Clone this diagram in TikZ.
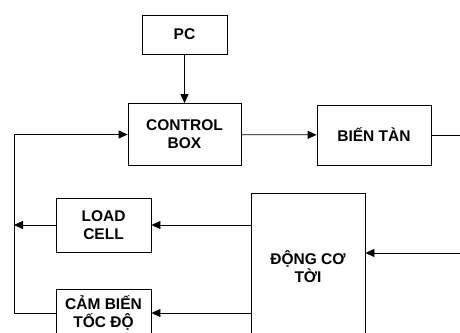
\documentclass[tikz,border=0pt]{standalone}
\usepackage{fontspec}
\setmainfont{Liberation Sans}
\usetikzlibrary{arrows.meta}

\begin{document}
\begin{tikzpicture}[x=1pt,y=-1pt,line width=0.8pt,>={Triangle[length=9pt,width=8pt]},
  every node/.style={font=\fontsize{15.5}{18}\selectfont\bfseries,align=center},
  blk/.style={draw,rectangle,inner sep=0pt}]
\useasboundingbox (0,0) rectangle (460,332); \clip (0,0) rectangle (460,332);
\node[blk,minimum width=85pt,minimum height=39pt] (pc) at (184.5,34.5) {PC};
\node[blk,minimum width=113pt,minimum height=62pt] (ctrl) at (184.5,134.5) {CONTROL\\BOX};
\node[blk,minimum width=114pt,minimum height=60pt] (bientan) at (374,135) {BIẾN TÀN};
\node[blk,minimum width=95pt,minimum height=54pt] (loadcell) at (103.5,225) {LOAD\\CELL};
\node[blk,minimum width=95pt,minimum height=48pt] (cambien) at (103.5,313) {CẢM BIẾN\\TỐC ĐỘ};
\node[blk,minimum width=114pt,minimum height=148pt] (dongco) at (308,267) {ĐỘNG CƠ\\TỜI};
\coordinate (lft) at (14,134.5); \coordinate (rout) at (462,135); \coordinate (rin) at (462,253);
% tin hieu dieu khien
\draw[->] (pc) -- (ctrl); \draw[->] (ctrl) -- (bientan); \draw (bientan.east) -- (rout);
\draw[->] (rin) -- (rin -| dongco.east);
% phan hoi
\draw[->] (dongco.west |- loadcell) -- (loadcell.east); \draw[->] (dongco.west |- cambien) -- (cambien.east);
\draw[->] (loadcell.west) -- (loadcell.west -| lft);
\draw[->] (cambien.west) -| (lft) -- (ctrl.west);
\end{tikzpicture}
\end{document}
